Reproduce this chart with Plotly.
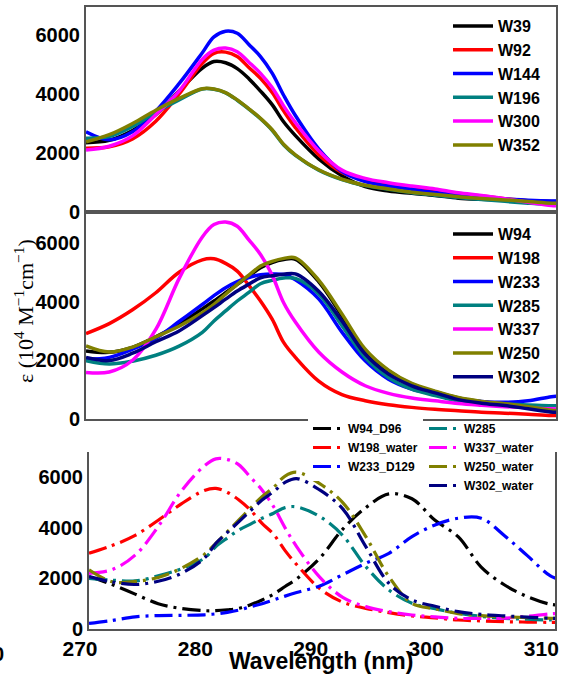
import plotly.graph_objects as go

# ---------------- data ----------------
wavelength = [270, 272, 274, 276, 278, 280, 281, 282, 283, 284, 285, 286, 287,
              288, 290, 292, 294, 296, 298, 300, 302, 304, 306, 308, 310, 311]

# top panel
W39 = [2350, 2430, 2760, 3300, 4100, 4880, 5100, 5060, 4860, 4520, 4100, 3640, 3050,
       2590, 1800, 1230, 860, 712, 633, 560, 470, 430, 405, 380, 355, 350]
W92 = [2160, 2210, 2480, 3080, 4000, 5040, 5380, 5420, 5270, 4900, 4530, 4050, 3420,
       2860, 1940, 1340, 1085, 915, 800, 710, 615, 540, 450, 380, 310, 295]
W144 = [2720, 2450, 2720, 3420, 4350, 5400, 5940, 6130, 6060, 5680, 5270, 4710, 3950,
        3270, 2140, 1370, 1030, 880, 770, 660, 570, 490, 440, 400, 375, 373]
W196 = [2500, 2560, 2900, 3380, 3800, 4170, 4160, 4040, 3790, 3490, 3160, 2770, 2270,
        1920, 1420, 1100, 895, 770, 655, 570, 490, 420, 360, 300, 250, 240]
W300 = [2100, 2230, 2580, 3300, 4100, 5180, 5490, 5560, 5435, 5080, 4700, 4220, 3590,
        3030, 2080, 1420, 1140, 995, 880, 780, 650, 560, 450, 330, 220, 205]
W352 = [2380, 2620, 3000, 3450, 3850, 4180, 4170, 4050, 3800, 3500, 3175, 2790, 2290,
        1940, 1430, 1110, 905, 780, 667, 590, 520, 460, 410, 360, 300, 295]

# middle panel
W94 = [2320, 2270, 2440, 2800, 3230, 3750, 4019, 4300, 4585, 4870, 5150, 5330, 5430,
       5440, 4680, 3520, 2320, 1640, 1190, 930, 720, 590, 510, 390, 250, 226]
W198 = [2910, 3250, 3720, 4300, 5000, 5420, 5456, 5300, 5037, 4550, 4019, 3400, 2600,
        2100, 1290, 830, 623, 487, 396, 330, 280, 230, 200, 160, 120, 113]
W233 = [2037, 2100, 2380, 2750, 3320, 3900, 4200, 4470, 4680, 4820, 4910, 4940, 4920,
        4740, 4090, 2960, 1981, 1358, 1019, 840, 670, 600, 570, 620, 760, 792]
W285 = [1981, 1870, 1970, 2170, 2480, 2950, 3340, 3680, 4019, 4310, 4607, 4720, 4800,
        4790, 4260, 3180, 2094, 1415, 1019, 800, 610, 540, 505, 480, 455, 453]
W337 = [1585, 1600, 2000, 3050, 4780, 6200, 6622, 6710, 6566, 6100, 5603, 4900, 3950,
        3300, 2280, 1600, 1132, 872, 713, 620, 530, 470, 419, 380, 345, 340]
W250 = [2490, 2280, 2450, 2800, 3160, 3620, 3905, 4250, 4585, 4900, 5207, 5370, 5470,
        5490, 4730, 3580, 2377, 1664, 1211, 950, 730, 600, 520, 420, 300, 283]
W302 = [2094, 1990, 2240, 2630, 3000, 3520, 3792, 4080, 4358, 4590, 4811, 4880, 4930,
        4940, 4350, 3340, 2207, 1528, 1132, 890, 660, 540, 460, 350, 240, 226]

# bottom panel
W94_D96 = [2070, 1760, 1380, 1000, 810, 725, 725, 760, 818, 960, 1148, 1380, 1680,
           1980, 2800, 3950, 4800, 5342, 5150, 4300, 3650, 2450, 1750, 1280, 980, 950]
W198_water = [2994, 3300, 3700, 4300, 4950, 5480, 5560, 5400, 5104, 4700, 4181, 3750, 3100,
              2550, 1600, 1060, 818, 646, 514, 440, 356, 320, 290, 275, 264, 262]
W233_D129 = [224, 340, 480, 530, 540, 560, 600, 660, 750, 880, 1000, 1150, 1300,
             1440, 1700, 2150, 2600, 2994, 3654, 4115, 4380, 4380, 3700, 2900, 2100, 1940]
W285_b = [2005, 1930, 1900, 2100, 2380, 2800, 3258, 3600, 3917, 4150, 4379, 4580, 4800,
          4830, 4450, 3700, 2467, 1543, 1016, 800, 620, 500, 420, 385, 358, 356]
W337_water = [2203, 2350, 2920, 4050, 5450, 6450, 6730, 6700, 6490, 6000, 5500, 4840, 4000,
              3260, 2050, 1250, 884, 686, 554, 480, 420, 420, 430, 500, 600, 620]
W250_water = [2335, 1870, 1880, 2040, 2400, 2950, 3390, 3850, 4313, 4780, 5236, 5600, 6050,
              6200, 5750, 5000, 3654, 2070, 1016, 800, 610, 530, 485, 450, 425, 422]
W302_water = [2070, 1860, 1760, 1890, 2200, 2800, 3390, 3820, 4247, 4680, 5104, 5430, 5800,
              5950, 5500, 4750, 3258, 1807, 1148, 900, 686, 580, 520, 470, 425, 422]

y_ticks = [0, 2000, 4000, 6000]
x_ticks = [270, 280, 290, 300, 310]

# ---------------- styling ----------------
BLACK, RED, BLUE, TEAL, MAG, OLIVE, NAVY = (
    "#000000", "#ff0000", "#0000ff", "#008080", "#ff00ff", "#808000", "#000080")

top_series = [("W39", W39, BLACK), ("W92", W92, RED), ("W144", W144, BLUE),
              ("W196", W196, TEAL), ("W300", W300, MAG), ("W352", W352, OLIVE)]
mid_series = [("W94", W94, BLACK), ("W198", W198, RED), ("W233", W233, BLUE),
              ("W285", W285, TEAL), ("W337", W337, MAG), ("W250", W250, OLIVE),
              ("W302", W302, NAVY)]
bot_series = [("W94_D96", W94_D96, BLACK, "legend3"),
              ("W198_water", W198_water, RED, "legend3"),
              ("W233_D129", W233_D129, BLUE, "legend3"),
              ("W285", W285_b, TEAL, "legend4"),
              ("W337_water", W337_water, MAG, "legend4"),
              ("W250_water", W250_water, OLIVE, "legend4"),
              ("W302_water", W302_water, NAVY, "legend4")]

fig = go.Figure()
for name, vals, col in top_series:
    fig.add_trace(go.Scatter(x=wavelength, y=vals, name=name, mode="lines",
                             line=dict(color=col, width=3.5, shape="spline"),
                             xaxis="x", yaxis="y", legend="legend"))
for name, vals, col in mid_series:
    fig.add_trace(go.Scatter(x=wavelength, y=vals, name=name, mode="lines",
                             line=dict(color=col, width=3.5, shape="spline"),
                             xaxis="x2", yaxis="y2", legend="legend2"))
for name, vals, col, lg in bot_series:
    fig.add_trace(go.Scatter(x=wavelength, y=vals, name=name, mode="lines",
                             line=dict(color=col, width=3.2, shape="spline",
                                       dash="18px,6px,3px,6px"),
                             xaxis="x3", yaxis="y3", legend=lg))

W, H = 569, 680
def px_x(p):
    return p / W
def px_y(p):
    return 1 - p / H

tick_font = dict(family="Liberation Sans, Arial", size=20, color="black", weight="bold")
axis_common = dict(showgrid=False, zeroline=False, showline=True, linecolor="#555555",
                   linewidth=2, ticks="", automargin=False)

x_rng = [270, 310.4]
fig.update_layout(
    width=W, height=H, margin=dict(l=0, r=0, t=0, b=0, autoexpand=False),
    paper_bgcolor="white", plot_bgcolor="white",
    xaxis=dict(axis_common, domain=[px_x(86), px_x(556)], range=x_rng, anchor="y",
               mirror=True, showticklabels=False),
    yaxis=dict(axis_common, domain=[px_y(212), px_y(7)], range=[0, 6950], anchor="x",
               mirror=True, tickvals=y_ticks, tickfont=tick_font),
    xaxis2=dict(axis_common, domain=[px_x(86), px_x(556)], range=x_rng, anchor="y2",
                mirror=True, showticklabels=False),
    yaxis2=dict(axis_common, domain=[px_y(419), px_y(212)], range=[0, 7050], anchor="x2",
                mirror=True, tickvals=y_ticks, tickfont=tick_font),
    xaxis3=dict(axis_common, domain=[px_x(89), px_x(555)], range=x_rng, anchor="y3",
                mirror=False, tickvals=x_ticks, ticklabelshift=-9,
                tickfont=dict(tick_font, size=21)),
    yaxis3=dict(axis_common, domain=[px_y(629), px_y(452)], range=[0, 7000], anchor="x3",
                mirror=True, tickvals=y_ticks, tickfont=tick_font),
    legend=dict(x=px_x(448), xanchor="left", y=px_y(9), yanchor="top",
                bgcolor="rgba(0,0,0,0)", itemwidth=40, tracegroupgap=0,
                font=dict(family="Liberation Sans, Arial", size=16, color="black",
                          weight="bold")),
    legend2=dict(x=px_x(448), xanchor="left", y=px_y(217), yanchor="top",
                 bgcolor="rgba(0,0,0,0)", itemwidth=40, tracegroupgap=0,
                 font=dict(family="Liberation Sans, Arial", size=16, color="black",
                           weight="bold")),
    legend3=dict(x=px_x(308), xanchor="left", y=px_y(414), yanchor="top",
                 bgcolor="white", tracegroupgap=0,
                 font=dict(family="Liberation Sans, Arial", size=12, color="black",
                           weight="bold")),
    legend4=dict(x=px_x(424), xanchor="left", y=px_y(414), yanchor="top",
                 bgcolor="rgba(0,0,0,0)", tracegroupgap=0,
                 font=dict(family="Liberation Sans, Arial", size=12, color="black",
                           weight="bold")),
    showlegend=True,
)

fig.add_annotation(
    text="ε (10<sup>4</sup> M<sup>−1</sup>cm<sup>−1</sup>)", textangle=-90,
    xref="paper", yref="paper", x=px_x(24), y=px_y(311),
    xanchor="center", yanchor="middle", showarrow=False,
    font=dict(family="Liberation Serif, Times New Roman", size=22, color="black"))
fig.add_annotation(
    text="Wavelength (nm)", xref="paper", yref="paper", x=px_x(321), y=px_y(661),
    xanchor="center", yanchor="middle", showarrow=False,
    font=dict(family="Liberation Sans, Arial", size=23, color="black", weight="bold"))
fig.add_annotation(
    text="0", xref="paper", yref="paper", x=px_x(-2), y=px_y(654),
    xanchor="center", yanchor="middle", showarrow=False,
    font=dict(family="Liberation Sans, Arial", size=20, color="black", weight="bold"))

fig.write_html("out.html")
